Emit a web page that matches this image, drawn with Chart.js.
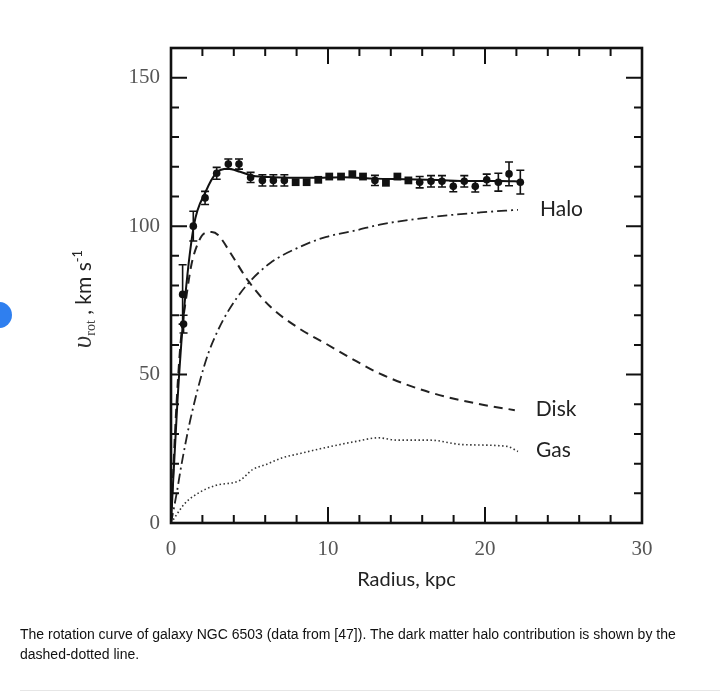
<!DOCTYPE html>
<html><head><meta charset="utf-8">
<script src="https://cdn.jsdelivr.net/npm/chart.js@4.4.1/dist/chart.umd.min.js"></script>
<style>
html,body{margin:0;padding:0;background:#fff;}
#wrap{position:relative;width:720px;height:700px;overflow:hidden;background:#fff;}
#c{position:absolute;left:0;top:0;}
#ytitle{position:absolute;left:84px;top:299px;transform:translate(-50%,-50%) rotate(-90deg);white-space:nowrap;font-family:Lato,sans-serif;font-size:21px;color:#222;line-height:30px;}
#ytitle .u{font-family:'Liberation Serif',serif;font-style:italic;font-size:27px;color:#333;}
#ytitle sub{font-family:'Liberation Serif',serif;font-size:14px;color:#444;vertical-align:-4px;}
#ytitle sup{font-size:13px;vertical-align:9px;}
#caption{position:absolute;left:20px;top:624px;width:686px;font-family:'Liberation Sans',Arial,sans-serif;font-size:14px;line-height:20px;color:#111;}
#sep{position:absolute;left:20px;right:0;top:690px;height:1px;background:#e6e6e6;}
#dot{position:absolute;left:-14px;top:302px;width:26px;height:26px;border-radius:50%;background:#2f7fef;}
</style></head>
<body>
<div id="wrap">
<canvas id="c" width="720" height="700"></canvas>
<div id="dot"></div>
<div id="ytitle"><span class="u">υ</span><sub>rot</sub> , km s<sup>-1</sup></div>
<div id="caption">The rotation curve of galaxy NGC 6503 (data from [47]). The dark matter halo contribution is shown by the dashed-dotted line.</div>
<div id="sep"></div>
</div>
<script>
// ---- data ----
const obsR = [0.74, 0.8, 1.42, 2.17, 2.91, 3.65, 4.33, 5.07, 5.82, 6.52, 7.22, 7.94, 8.64, 9.38, 10.08, 10.83, 11.55, 12.23, 12.99, 13.69, 14.42, 15.12, 15.84, 16.56, 17.26, 17.98, 18.68, 19.38, 20.11, 20.85, 21.53, 22.25];
const obsV = [77, 67, 100, 109.5, 117.8, 120.9, 120.9, 116.4, 115.4, 115.4, 115.4, 114.8, 114.8, 115.6, 116.7, 116.7, 117.5, 116.7, 115.4, 114.6, 116.7, 115.4, 114.8, 115.1, 115.1, 113.4, 115.1, 113.4, 115.6, 114.8, 117.6, 114.8];
const obsErr = [10, 3, 5, 2.2, 2, 1.7, 1.7, 1.7, 1.9, 1.9, 1.9, 0.8, 0.8, 0.8, 0.8, 0.8, 0.8, 0.8, 1.7, 0.8, 0.8, 0.8, 1.9, 1.9, 1.9, 1.8, 1.9, 1.9, 1.9, 3, 4, 4];

const fitR = [0, 0.4, 0.8, 1.45, 2.2, 2.9, 3.6, 4.4, 5.2, 6.5, 9, 11, 13, 15, 17, 19, 21, 22.3];
const fitV = [0, 40, 70, 100, 111.5, 118, 119.3, 118.3, 117, 116.5, 116.3, 116.5, 116, 115.8, 115.5, 115.2, 115.2, 115];

const haloR = [0, 0.36, 0.68, 1.2, 1.85, 2.4, 3.0, 3.6, 4.8, 6.3, 8.2, 9.9, 11.8, 13.3, 16.5, 19.7, 22.1];
const haloV = [0, 10, 20, 34, 48, 57.5, 65, 71, 80, 87.5, 93, 96.4, 98.6, 100.5, 103, 104.6, 105.5];

const diskR = [0, 0.3, 0.6, 1.0, 1.3, 1.7, 2.1, 2.6, 3.0, 3.9, 4.9, 6.3, 8.2, 9.9, 11.8, 13.3, 16.5, 19.7, 21.9];
const diskV = [0, 35, 60, 77, 87, 94, 97.5, 98, 97, 90, 81.7, 73, 65.4, 60.3, 54.5, 50.3, 44, 40, 38];

const gasR = [0, 0.9, 1.85, 2.8, 4.4, 5.2, 6.1, 7.05, 8.3, 9.5, 11.8, 13.2, 14.4, 16.5, 18.6, 21.4, 22.1];
const gasV = [0, 6.7, 10.4, 12.6, 14.4, 18, 19.8, 21.9, 23.5, 25, 27.5, 28.7, 27.9, 27.9, 26.4, 25.8, 24.1];

const seriesLabels = ['Halo', 'Disk', 'Gas'];
const xTickValues = [0, 2, 4, 6, 8, 10, 12, 14, 16, 18, 20, 22, 24, 26, 28, 30];
const xTickLabels = [0, 10, 20, 30];
const yTickValues = [0, 10, 20, 30, 40, 50, 60, 70, 80, 90, 100, 110, 120, 130, 140, 150, 160];
const yTickLabels = [0, 50, 100, 150];

const pts = (xs, ys) => xs.map((x, i) => ({x: x, y: ys[i]}));

const decor = {
  id: 'decor',
  beforeDatasetsDraw(chart) {
    const ctx = chart.ctx, xs = chart.scales.x, ys = chart.scales.y;
    ctx.save();
    ctx.strokeStyle = '#111';
    ctx.lineWidth = 1.6;
    obsR.forEach((r, i) => {
      const e = obsErr[i];
      if (e < 1) return;
      const px = xs.getPixelForValue(r);
      const y1 = ys.getPixelForValue(obsV[i] + e), y2 = ys.getPixelForValue(obsV[i] - e);
      ctx.beginPath();
      ctx.moveTo(px, y1); ctx.lineTo(px, y2);
      ctx.moveTo(px - 4, y1); ctx.lineTo(px + 4, y1);
      ctx.moveTo(px - 4, y2); ctx.lineTo(px + 4, y2);
      ctx.stroke();
    });
    ctx.restore();
  },
  afterDraw(chart) {
    const ctx = chart.ctx, xs = chart.scales.x, ys = chart.scales.y, a = chart.chartArea;
    ctx.save();
    ctx.strokeStyle = '#111';
    ctx.lineWidth = 2;
    ctx.beginPath();
    xTickValues.forEach(v => {
      if (v === 0 || v === 30) return;
      const px = xs.getPixelForValue(v);
      const len = v % 10 === 0 ? 16 : 8;
      ctx.moveTo(px, a.bottom); ctx.lineTo(px, a.bottom - len);
      ctx.moveTo(px, a.top); ctx.lineTo(px, a.top + len);
    });
    yTickValues.forEach(v => {
      if (v === 0 || v === 160) return;
      const py = ys.getPixelForValue(v);
      const len = v % 50 === 0 ? 16 : 8;
      ctx.moveTo(a.left, py); ctx.lineTo(a.left + len, py);
      ctx.moveTo(a.right, py); ctx.lineTo(a.right - len, py);
    });
    ctx.stroke();
    ctx.lineWidth = 2.6;
    ctx.strokeRect(a.left, a.top, a.right - a.left, a.bottom - a.top);
    // series labels at the end of each curve
    ctx.fillStyle = '#222';
    ctx.font = '21px Lato, sans-serif';
    ctx.textBaseline = 'middle';
    ctx.textAlign = 'left';
    const ends = [[haloR, haloV, 22], [diskR, diskV, 21], [gasR, gasV, 18]];
    ends.forEach((e, i) => {
      const n = e[0].length - 1;
      ctx.fillText(seriesLabels[i], xs.getPixelForValue(e[0][n]) + e[2], ys.getPixelForValue(e[1][n]) - 1);
    });
    ctx.restore();
  }
};

new Chart(document.getElementById('c'), {
  type: 'scatter',
  data: {
    datasets: [
      {label: 'Observed', data: pts(obsR, obsV), showLine: false, backgroundColor: '#111', borderColor: '#111',
       pointStyle: c => obsErr[c.dataIndex] < 1 ? 'rect' : 'circle',
       pointRadius: c => obsErr[c.dataIndex] < 1 ? 5.5 : 3.8, borderWidth: 0, order: 0},
      {label: 'Fit', data: pts(fitR, fitV), showLine: true, borderColor: '#111', borderWidth: 2, pointRadius: 0, cubicInterpolationMode: 'monotone', order: 1},
      {label: 'Halo', data: pts(haloR, haloV), showLine: true, borderColor: '#222', borderWidth: 1.8, borderDash: [10, 4, 2, 4], pointRadius: 0, cubicInterpolationMode: 'monotone', order: 2},
      {label: 'Disk', data: pts(diskR, diskV), showLine: true, borderColor: '#222', borderWidth: 2, borderDash: [9, 6], pointRadius: 0, cubicInterpolationMode: 'monotone', order: 3},
      {label: 'Gas', data: pts(gasR, gasV), showLine: true, borderColor: '#333', borderWidth: 1.6, borderDash: [1.5, 2.5], pointRadius: 0, cubicInterpolationMode: 'monotone', order: 4}
    ]
  },
  options: {
    responsive: false,
    animation: false,
    devicePixelRatio: 1,
    layout: {padding: {left: 0, top: 48, right: 78, bottom: 108}},
    plugins: {legend: {display: false}, tooltip: {enabled: false}},
    scales: {
      x: {
        type: 'linear', min: 0, max: 30,
        afterBuildTicks: s => { s.ticks = xTickValues.map(v => ({value: v})); },
        afterFit: s => { s.height = 69; },
        ticks: {autoSkip: false, maxRotation: 0, padding: 14, color: '#555',
                font: {family: "'Liberation Serif', serif", size: 21},
                callback: v => xTickLabels.includes(v) ? String(v) : ''},
        grid: {display: false, drawTicks: false},
        border: {display: false},
        title: {display: true, text: 'Radius, kpc', color: '#222', padding: 0,
                font: {family: 'Lato, sans-serif', size: 20}}
      },
      y: {
        type: 'linear', min: 0, max: 160,
        afterBuildTicks: s => { s.ticks = yTickValues.map(v => ({value: v})); },
        afterFit: s => { s.width = 171; },
        ticks: {autoSkip: false, padding: 11, color: '#555',
                font: {family: "'Liberation Serif', serif", size: 21},
                callback: v => yTickLabels.includes(v) ? String(v) : ''},
        grid: {display: false, drawTicks: false},
        border: {display: false}
      }
    }
  },
  plugins: [decor]
});
</script>
</body></html>
